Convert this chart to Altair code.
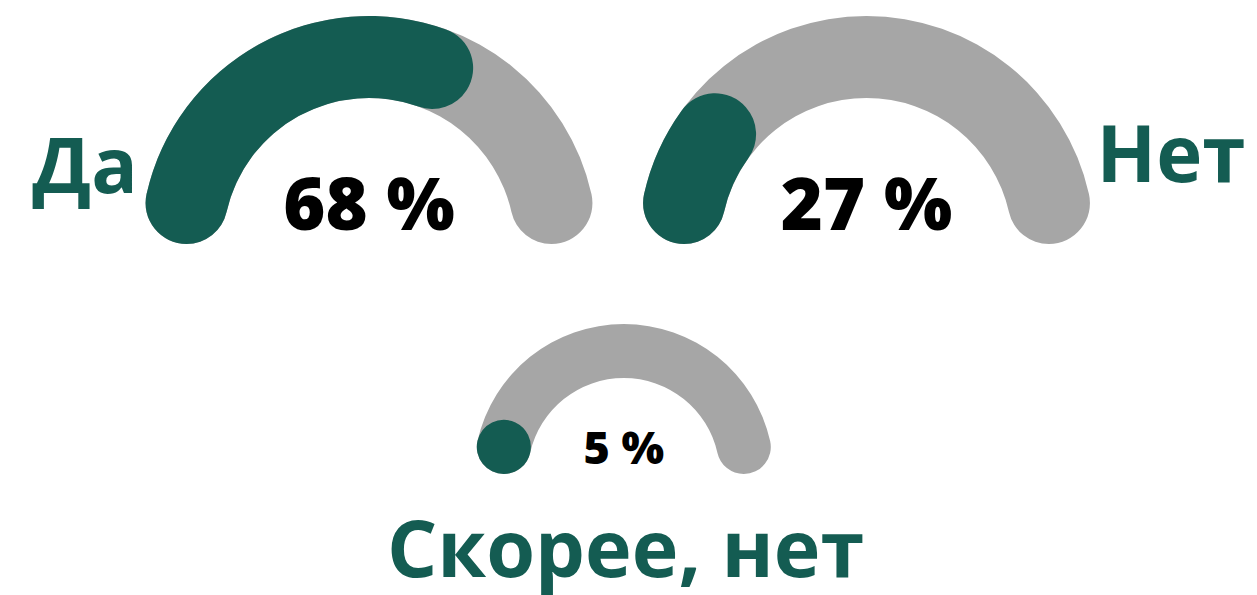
import math
import altair as alt
import pandas as pd

# ---- data ----
labels = ["Да", "Нет", "Скорее, нет"]
values = [68, 27, 5]

df = pd.DataFrame({"label": labels, "value": values})

GREEN = "#145c52"
GRAY = "#a6a6a6"
FONT = "Open Sans"

theta_scale = alt.Scale(domain=[0, 100], range=[-math.pi / 2, math.pi / 2])

# layout of each gauge: center x, center y, outer radius, inner radius, value font size
gauges = [
    dict(cx=361, cy=236, ro=228, ri=146, fs=72, ty=222),
    dict(cx=858.5, cy=236, ro=228, ri=146, fs=72, ty=222),
    dict(cx=615.8, cy=466, ro=150, ri=96, fs=45, ty=456),
]
# category label positions
label_pos = [
    dict(x=77, y=185, fs=77),
    dict(x=1163, y=174, fs=78),
    dict(x=617.5, y=569, fs=79),
]

layers = []
for i, g in enumerate(gauges):
    rc = (g["ro"] - g["ri"]) / 2
    rmid = (g["ro"] + g["ri"]) / 2
    min_pct = 2 * math.asin(rc / rmid) / math.pi * 100 + 0.05
    base = alt.Chart(df).transform_filter(alt.datum.label == labels[i])

    bg = base.transform_calculate(start="0", end="100").mark_arc(
        outerRadius=g["ro"], innerRadius=g["ri"], cornerRadius=rc, color=GRAY
    ).encode(
        theta=alt.Theta("start:Q", scale=theta_scale, stack=None),
        theta2="end:Q",
        x=alt.value(g["cx"]),
        y=alt.value(g["cy"]),
    )
    fg = base.transform_calculate(
        start="0", end=f"max(datum.value, {min_pct:.3f})"
    ).mark_arc(
        outerRadius=g["ro"], innerRadius=g["ri"], cornerRadius=rc, color=GREEN
    ).encode(
        theta=alt.Theta("start:Q", scale=theta_scale, stack=None),
        theta2="end:Q",
        x=alt.value(g["cx"]),
        y=alt.value(g["cy"]),
    )
    pct = base.transform_calculate(pct="datum.value + ' %'").mark_text(
        font=FONT, fontWeight=800, fontSize=g["fs"], color="black",
        align="center", baseline="alphabetic"
    ).encode(
        text="pct:N",
        x=alt.value(g["cx"]),
        y=alt.value(g["ty"]),
    )
    lp = label_pos[i]
    lab = base.mark_text(
        font=FONT, fontWeight="bold", fontSize=lp["fs"], color=GREEN,
        align="center", baseline="alphabetic"
    ).encode(
        text="label:N",
        x=alt.value(lp["x"]),
        y=alt.value(lp["y"]),
    )
    layers += [bg, fg, pct, lab]

chart = alt.layer(*layers).properties(
    width=1241, height=587, autosize=alt.AutoSizeParams(type="none"), padding=0
).configure_view(stroke=None)

chart.save("out.html", embed_options={"renderer": "svg", "actions": False})
